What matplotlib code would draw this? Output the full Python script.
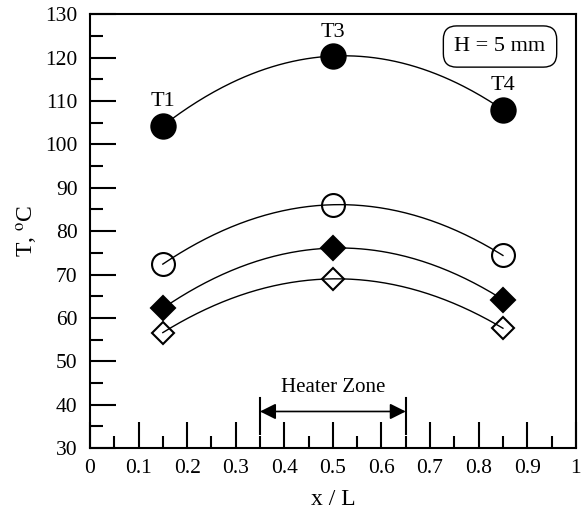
import numpy as np
import matplotlib.pyplot as plt
from matplotlib.ticker import MultipleLocator

# Data
x_pos = [0.15, 0.5, 0.85]
t_filled_circle = [104.3, 120.4, 108.0]
t_open_circle = [72.4, 86.1, 74.4]
t_filled_diamond = [62.2, 76.1, 64.2]
t_open_diamond = [56.6, 69.0, 57.6]
point_labels = ["T1", "T3", "T4"]
heater_start, heater_end = 0.35, 0.65

plt.rcParams['font.family'] = ['Liberation Serif', 'DejaVu Serif']
plt.rcParams['mathtext.fontset'] = 'stix'

fig = plt.figure(figsize=(5.84, 5.16), dpi=100)
ax = fig.add_axes([0.154, 0.132, 0.832, 0.84])

series = [
    (t_filled_circle, 'o', 'black', 17.5),
    (t_open_circle, 'o', 'none', 16.5),
    (t_filled_diamond, 'D', 'black', 12.5),
    (t_open_diamond, 'D', 'none', 11),
]

xs = np.linspace(x_pos[0], x_pos[-1], 200)
for vals, mk, fc, ms in series:
    # smooth quadratic through the three measured points
    coef = np.polyfit(x_pos, vals, 2)
    ax.plot(xs, np.polyval(coef, xs), color='black', lw=1, zorder=3)
    ax.plot(x_pos, vals, linestyle='none', marker=mk, markersize=ms,
            markerfacecolor=fc, markeredgecolor='black', markeredgewidth=1.5,
            zorder=2 if fc == 'none' else 4)

# point labels above the top series
for xp, yv, lab in zip(x_pos, t_filled_circle, point_labels):
    ax.text(xp, yv + 4.5, lab, ha='center', va='baseline', fontsize=16)

# heater zone marker
ax.plot([heater_start, heater_start], [33.3, 41.6], color='black', lw=1.5)
ax.plot([heater_end, heater_end], [33.3, 41.6], color='black', lw=1.5)
ax.annotate('', xy=(heater_start, 38.4), xytext=(heater_end, 38.4),
            arrowprops=dict(arrowstyle='<|-|>', color='black', lw=1.2,
                            mutation_scale=24, shrinkA=0, shrinkB=0))
ax.text(0.5, 42.8, 'Heater Zone', ha='center', va='baseline', fontsize=15)

ax.text(0.844, 122.6, 'H = 5 mm', ha='center', va='center', fontsize=16,
        bbox=dict(boxstyle='round,pad=0.5,rounding_size=0.6',
                  facecolor='white', edgecolor='black', lw=1))

ax.set_xlim(0, 1)
ax.set_ylim(30, 130)
ax.xaxis.set_major_locator(MultipleLocator(0.1))
ax.xaxis.set_minor_locator(MultipleLocator(0.05))
ax.yaxis.set_major_locator(MultipleLocator(10))
ax.yaxis.set_minor_locator(MultipleLocator(5))
ax.set_xticks(np.arange(0, 1.01, 0.1))
ax.set_xticklabels(['0'] + ['%.1f' % v for v in np.arange(0.1, 0.95, 0.1)] + ['1'])
ax.tick_params(which='major', direction='in', length=18.5, width=1.5,
               labelsize=15.5, top=False, right=False)
ax.tick_params(which='minor', direction='in', length=9, width=1.5,
               top=False, right=False)
ax.tick_params(axis='x', pad=8)
ax.tick_params(axis='y', pad=9)
for s in ax.spines.values():
    s.set_linewidth(1.5)

ax.set_xlabel('x / L', fontsize=17, labelpad=8)
ax.set_ylabel('T, $^{\\rm o}$C', fontsize=17, labelpad=4)

fig.savefig('out.png', dpi=100)
